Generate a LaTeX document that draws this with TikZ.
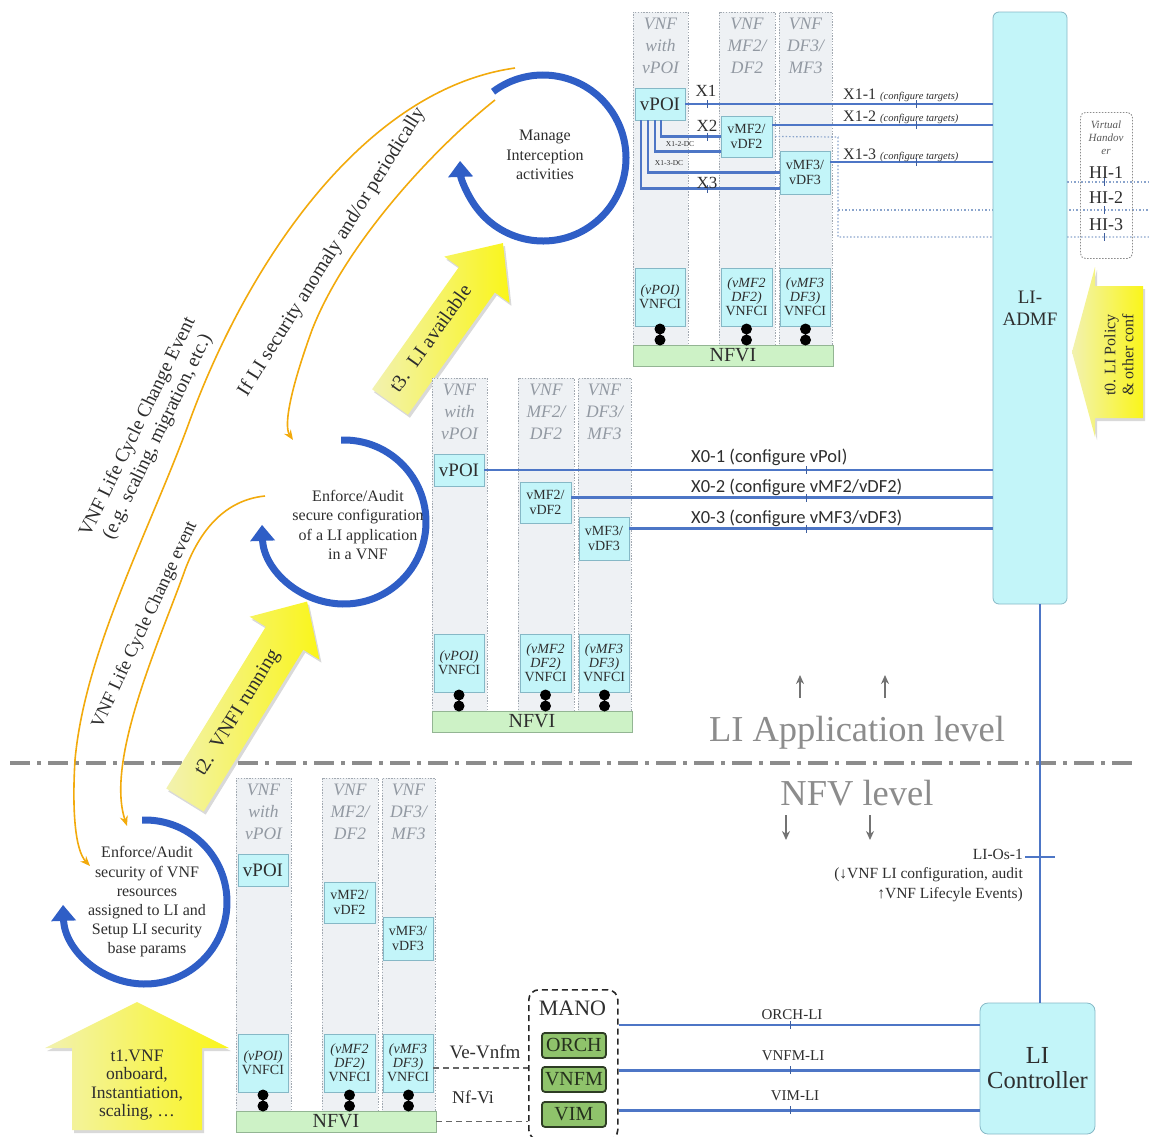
\documentclass[tikz,border=0pt]{standalone}
\usepackage{fontspec}
\setmainfont{Liberation Serif}
\newfontfamily\sansf{Carlito}
\usetikzlibrary{arrows.meta,shadows}

\definecolor{cyfill}{HTML}{C3F5F9}
\definecolor{cyline}{HTML}{86B8C6}
\definecolor{colfill}{HTML}{EEF1F4}
\definecolor{colline}{HTML}{A2A9B1}
\definecolor{nffill}{HTML}{CDF2C6}
\definecolor{nfline}{HTML}{93B593}
\definecolor{titlegray}{HTML}{9299A2}
\definecolor{lineblue}{HTML}{4D76C6}
\definecolor{arcblue}{HTML}{2F5EC6}
\definecolor{hiblue}{HTML}{8AA4CC}
\definecolor{orng1}{HTML}{F2AA0C}
\definecolor{txt}{HTML}{2E2E2E}
\definecolor{ybright}{HTML}{FAF51A}
\definecolor{yfaint}{HTML}{F2F2B0}
\definecolor{manofill}{HTML}{8FC36B}
\definecolor{manoline}{HTML}{2E3D24}

\newcommand\fsz[2]{\fontsize{#1}{#2}\selectfont}

% one VNF group: three VNF columns, their LI functions, VNFCIs and the NFVI
\newcommand\vnfgroup[2]{%
\begin{scope}[shift={#2}]
  \node[colbox, minimum width=55pt, minimum height=333pt] (#1k1) at (0,0) {};
  \node[colbox, minimum width=56pt, minimum height=333pt] (#1k2) at (86,0) {};
  \node[colbox, minimum width=53pt, minimum height=333pt] (#1k3) at (146,0) {};
  \node[coltitle] (#1t1) at (27.5,6) {VNF\\with\\vPOI};
  \node[coltitle] (#1t2) at (114,6) {VNF\\MF2/\\DF2};
  \node[coltitle] (#1t3) at (172.5,6) {VNF\\DF3/\\MF3};
  \node[cybox, minimum width=50pt, minimum height=32pt, font=\fsz{19}{20}] (#1pol) at (2,76) {vPOI};
  \node[cybox, minimum width=51pt, minimum height=41pt, font=\fsz{14}{15}] (#1mf2) at (88,104) {vMF2/\\vDF2};
  \node[cybox, minimum width=50pt, minimum height=43pt, font=\fsz{14}{15}] (#1mf3) at (147,139) {vMF3/\\vDF3};
  \node[cybox, minimum width=50pt, minimum height=58pt, font=\fsz{14}{14}] (#1c1) at (2,256) {\textit{(vPOI)}\\VNFCI};
  \node[cybox, minimum width=51pt, minimum height=58pt, font=\fsz{14}{14}] (#1c2) at (88,256) {\textit{(vMF2}\\\textit{DF2)}\\VNFCI};
  \node[cybox, minimum width=50pt, minimum height=58pt, font=\fsz{14}{14}] (#1c3) at (147,256) {\textit{(vMF3}\\\textit{DF3)}\\VNFCI};
  \node[nfbox, minimum width=200pt, minimum height=21pt] (#1nf) at (0,333) {NFVI};
  \foreach \xx in {27,113.5,172.5} {\fill[black] (\xx,317) circle[radius=5.5pt] (\xx,328) circle[radius=5.5pt];}
\end{scope}}

% yellow block arrow: tail point, direction, length, shaft half width, head half width, head length
\newcommand\yarrow[6]{%
\begin{scope}[shift={#1}, rotate=#2]
  \path[yarr] (0,-#4) -- ({#3-#6},-#4) -- ({#3-#6},-#5) -- (#3,0) -- ({#3-#6},#5) -- ({#3-#6},#4) -- (0,#4) -- cycle;
\end{scope}}

\begin{document}
\begin{tikzpicture}[x=1pt, y=-1pt,
  colbox/.style={draw=colline, fill=colfill, line width=0.8pt, dash pattern=on 1.4pt off 1.4pt, anchor=north west, inner sep=0pt, outer sep=0pt},
  cybox/.style={draw=cyline, fill=cyfill, line width=0.8pt, anchor=north west, inner sep=0pt, outer sep=0pt, align=center, text=txt},
  nfbox/.style={draw=nfline, fill=nffill, line width=0.8pt, anchor=north west, inner sep=0pt, outer sep=0pt, text=txt, font=\fsz{20}{20}},
  coltitle/.style={anchor=north, align=center, inner sep=0pt, text=titlegray, font=\itshape\fsz{17.5}{22}},
  bl/.style={draw=lineblue, line width=2.4pt},
  hid/.style={draw=hiblue, line width=1.2pt, dash pattern=on 1.5pt off 2pt},
  ifmark/.style={draw=lineblue!80!black, line width=0.9pt},
  orng/.style={draw=orng1, line width=1.6pt, -{Stealth[length=10pt, width=8pt]}},
  barc/.style={draw=arcblue, line width=7pt, -{Triangle[length=16pt, width=24pt]}},
  dashln/.style={draw=black!60, line width=1.5pt, dash pattern=on 6pt off 4pt},
  grayarr/.style={draw=black!55, line width=1.6pt, -{Stealth[length=9pt, width=8pt]}},
  yarr/.style={left color=yfaint, right color=ybright, drop shadow={shadow xshift=2pt, shadow yshift=-3pt, opacity=0.3}},
  mbox/.style={draw=manoline, fill=manofill, line width=1.8pt, rounded corners=3pt, anchor=north west, inner sep=0pt, minimum width=64pt, minimum height=25pt, text=manoline!80!black, font=\fsz{20}{20}},
  ctext/.style={align=center, text=txt, font=\fsz{16}{19.2}, inner sep=0pt},
  lbl/.style={text=txt, inner sep=0pt},
]
\useasboundingbox (0,0) rectangle (1149,1136);

% ---------- level separator and level captions ----------
\coordinate (sepL) at (10,763);
\coordinate (sepR) at (1135,763);
\draw[draw=black!45, line width=4pt, dash pattern=on 20pt off 7pt on 4pt off 7pt] (sepL) -- (sepR);
\node[lbl, text=black!45, font=\fsz{36.5}{37}] (lial) at (857,733) {LI Application level};
\node[lbl, text=black!45, font=\fsz{36.5}{37}] (nfvl) at (857,793) {NFV level};
\draw[grayarr] (800,698) -- (800,675);
\draw[grayarr] (885,698) -- (885,675);
\draw[grayarr] (786,815) -- (786,840);
\draw[grayarr] (870,815) -- (870,840);

% ---------- yellow phase arrows ----------
\yarrow{(1143,352)}{180}{71}{66}{85}{23}
\yarrow{(137,1130)}{90}{128}{65}{92}{46}
\yarrow{(185,800)}{58.4}{233}{22}{41}{43}
\yarrow{(390,402)}{54.6}{195}{22}{40}{45}
\node[lbl, rotate=90, align=center, font=\fsz{16}{18}] (t0t) at (1119,355) {t0. LI Policy\\\& other conf};
\node[lbl, align=center, font=\fsz{17.5}{18.5}] (t1t) at (137,1085) {t1.VNF\\onboard,\\Instantiation,\\scaling, \dots};
\node[lbl, rotate=58.4, font=\fsz{20}{20}] (t2t) at (238,713) {t2.\ \ VNFI running};
\node[lbl, rotate=54.6, font=\fsz{20}{20}] (t3t) at (430,338) {t3.\ \ LI available};

% ---------- VNF groups ----------
\vnfgroup{t}{(633,12)}
\vnfgroup{m}{(432,378)}
\vnfgroup{b}{(236,778)}

% ---------- handover dotted paths (behind LI-ADMF) ----------
\coordinate (hic) at (838,137);
\coordinate (hie1) at (1149,182);
\coordinate (hie2) at (1149,210);
\coordinate (hie3) at (1149,237);
\draw[hid] (tk2.east |- tmf2.east) -- (hic) -- (hic |- hie3) -- (hie3);
\draw[hid] (hic |- hie2) -- (hie2);

% ---------- LI-ADMF and LI Controller ----------
\node[cybox, rounded corners=6pt, minimum width=74pt, minimum height=592pt, font=\fsz{19}{22}] (admf) at (993,12) {LI-\\ADMF};
\draw[hid] (admf.east |- hie1) -- (hie1);
\node[cybox, rounded corners=8pt, minimum width=115pt, minimum height=131pt, font=\fsz{24.5}{25}] (lic) at (980,1003) {LI\\Controller};

% virtual handover interfaces
\node[draw=black!45, dash pattern=on 1.5pt off 1.5pt, rounded corners=5pt, line width=0.9pt, anchor=north west, minimum width=52pt, minimum height=146pt, inner sep=0pt] (vho) at (1080,112) {};
\node[lbl, align=center, text=black!65, font=\itshape\fsz{11}{13}] (vhot) at (1106,138) {Virtual\\Handov\\er};
\node[lbl, font=\fsz{18}{18}] (hi1) at (1106,173) {HI-1};
\node[lbl, font=\fsz{18}{18}] (hi2) at (1106,198) {HI-2};
\node[lbl, font=\fsz{18}{18}] (hi3) at (1106,225) {HI-3};
\foreach \yy in {182,210,237} {\draw[ifmark] (1104,\yy-4) -- (1104,\yy+4);}

% ---------- X1 / X2 / X3 interfaces (top group) ----------
\draw[bl] (tpol.east) -- (tpol.east -| admf.west);
\draw[bl] ([yshift=-9pt]tmf2.north east) -- ([yshift=-9pt]tmf2.north east -| admf.west);
\draw[bl] ([yshift=-11pt]tmf3.north east) -- ([yshift=-11pt]tmf3.north east -| admf.west);
\draw[bl] ([xshift=1pt]tpol.south) |- (tmf2.west);
\draw[bl] ([xshift=-5pt]tpol.south) |- ([yshift=-15pt]tmf2.west);
\draw[bl] ([xshift=-12pt]tpol.south) |- (tmf3.west);
\draw[bl] ([xshift=-19pt]tpol.south) |- ([yshift=-16pt]tmf3.west);
\foreach \yy in {104,136.5,188.5} {\draw[ifmark] (707,\yy-4) -- (707,\yy+4);}
\foreach \yy in {104,125,162} {\draw[ifmark] (916,\yy-4) -- (916,\yy+4);}
\node[lbl, font=\fsz{17}{17}] (lx1) at (706,91) {X1};
\node[lbl, font=\fsz{17}{17}] (lx2) at (707,126) {X2};
\node[lbl, font=\fsz{17}{17}] (lx3) at (707,183) {X3};
\node[lbl, font=\fsz{7.5}{8}] (lx12) at (680,144) {X1-2-DC};
\node[lbl, font=\fsz{7.5}{8}] (lx13) at (669,163) {X1-3-DC};
\node[lbl, anchor=west, font=\fsz{16}{16}] (l11) at (843,95) {X1-1 {\itshape\fsz{10.5}{11}(configure targets)}};
\node[lbl, anchor=west, font=\fsz{16}{16}] (l12) at (843,117) {X1-2 {\itshape\fsz{10.5}{11}(configure targets)}};
\node[lbl, anchor=west, font=\fsz{16}{16}] (l13) at (843,155) {X1-3 {\itshape\fsz{10.5}{11}(configure targets)}};

% ---------- X0 interfaces (middle group) ----------
\draw[bl] (mpol.east) -- (mpol.east -| admf.west);
\draw[bl] ([yshift=5pt]mmf2.east) -- ([yshift=5pt]mmf2.east -| admf.west);
\draw[bl] ([yshift=10pt]mmf3.east) -- ([yshift=10pt]mmf3.east -| admf.west);
\foreach \yy in {470,497.5,528.5} {\draw[ifmark] (806,\yy-4) -- (806,\yy+4);}
\node[lbl, anchor=west, font=\sansf\fsz{18.5}{19}] (x01) at (691,457) {X0-1 (configure vPoI)};
\node[lbl, anchor=west, font=\sansf\fsz{18.5}{19}] (x02) at (691,487) {X0-2 (configure vMF2/vDF2)};
\node[lbl, anchor=west, font=\sansf\fsz{18.5}{19}] (x03) at (691,518) {X0-3 (configure vMF3/vDF3)};

% ---------- LI-ADMF to LI Controller ----------
\draw[bl] ([xshift=10pt]admf.south) -- ([xshift=10pt]admf.south |- lic.north);
\coordinate (osl) at (1025,857);
\coordinate (osr) at (1055,857);
\draw[bl, line width=1.6pt] (osl) -- (osr);
\node[lbl, anchor=north east, align=right, font=\fsz{15.5}{19.5}] (lios) at (1023,849) {LI-Os-1\\(↓VNF LI configuration, audit\\↑VNF Lifecyle Events)};

% ---------- MANO ----------
\node[draw=black!85, dash pattern=on 6pt off 4pt, rounded corners=10pt, line width=1.6pt, anchor=north west, minimum width=89pt, minimum height=150pt, inner sep=0pt] (mano) at (528,989) {};
\node[lbl, font=\fsz{22}{22}] (manot) at (572.5,1008) {MANO};
\node[mbox] (orch) at (541,1032) {ORCH};
\node[mbox] (vnfm) at (541,1066) {VNFM};
\node[mbox] (vim) at (541,1101) {VIM};
\draw[bl] ([yshift=7pt]orch.north -| mano.east) -- ([yshift=7pt]orch.north -| lic.west);
\draw[bl] ([yshift=9pt]vnfm.east -| mano.east) -- ([yshift=9pt]vnfm.east -| lic.west);
\draw[bl] ([yshift=4pt]vim.east -| mano.east) -- ([yshift=4pt]vim.east -| lic.west);
\foreach \yy in {1025,1070,1110} {\draw[ifmark] (790,\yy-4) -- (790,\yy+4);}
\node[lbl, font=\fsz{15}{15}] (orchli) at (792,1015) {ORCH-LI};
\node[lbl, font=\fsz{15}{15}] (vnfmli) at (793,1056) {VNFM-LI};
\node[lbl, font=\fsz{15}{15}] (vimli) at (795,1096) {VIM-LI};
\draw[dashln] ([yshift=-5pt]bc3.east) -- ([yshift=-5pt]bc3.east -| mano.west);
\draw[dashln] (bnf.east) -- (bnf.east -| mano.west);
\node[lbl, font=\fsz{19}{19}] (vevnfm) at (485,1052) {Ve-Vnfm};
\node[lbl, font=\fsz{18}{18}] (nfvi) at (473,1097) {Nf-Vi};

% ---------- security cycles ----------
\draw[barc] (543,158) ++(233:83) arc[start angle=233, end angle=538, radius=83];
\draw[barc] (344,522) ++(268:82) arc[start angle=268, end angle=538, radius=82];
\draw[barc] (145,902) ++(268:82) arc[start angle=268, end angle=538, radius=82];
\node[ctext] (mgt) at (545,155) {Manage\\Interception\\activities};
\node[ctext] (enfa) at (358,525) {Enforce/Audit\\secure configuration\\of a LI application\\in a VNF};
\node[ctext] (enfb) at (147,902) {Enforce/Audit\\security of VNF\\resources\\assigned to LI and\\Setup LI security\\base params};

% ---------- event loops ----------
\draw[orng] (515,68) .. controls (360,90) and (245,270) .. (190,420) .. controls (150,530) and (85,650) .. (75,760) .. controls (72,810) and (75,850) .. (90,866);
\draw[orng] (495,100) .. controls (432,150) and (345,245) .. (312,330) .. controls (292,385) and (283,425) .. (293,440);
\draw[orng] (265,496) .. controls (225,500) and (200,530) .. (185,570) .. controls (160,640) and (105,760) .. (127,826);
\node[lbl, rotate=64, align=center, font=\fsz{19.5}{22}] (lce1) at (148,432) {VNF Life Cycle Change Event\\(e.g. scaling, migration, etc.)};
\node[lbl, rotate=58, font=\fsz{20}{22}] (anom) at (332,252) {If LI security anomaly and/or periodically};
\node[lbl, rotate=65, font=\fsz{18.5}{22}] (lce2) at (145,625) {VNF Life Cycle Change event};
\end{tikzpicture}
\end{document}
